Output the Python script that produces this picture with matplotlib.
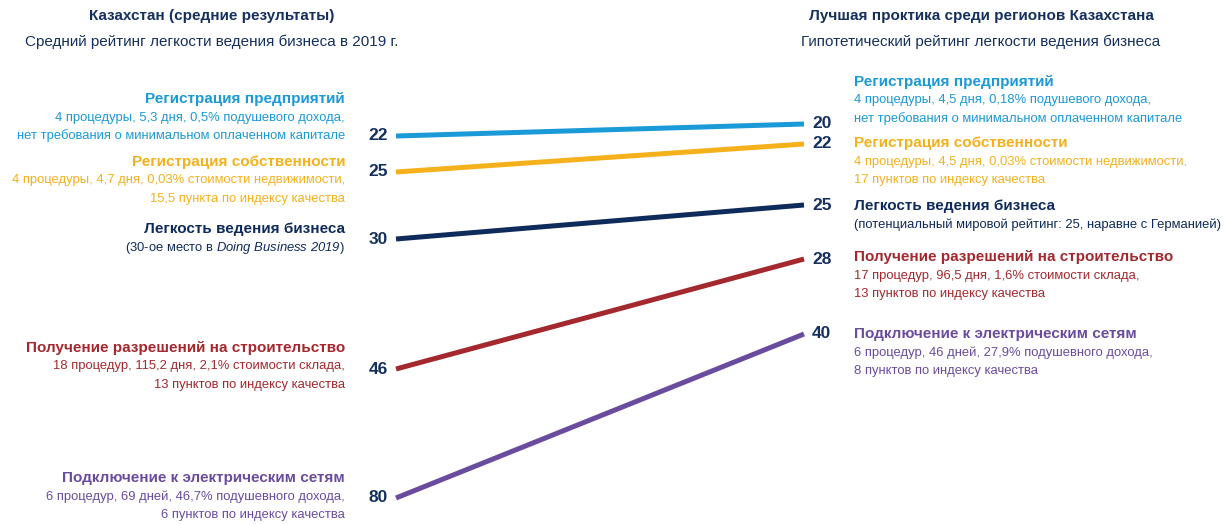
import matplotlib

matplotlib.use("Agg")
import matplotlib.pyplot as plt
import numpy as np
from matplotlib.patches import ConnectionPatch

FONT = ["Liberation Sans", "DejaVu Sans"]
plt.rcParams["font.family"] = FONT
# only the "Doing Business 2019" fragment is math text, and it is all italic
plt.rcParams["mathtext.fontset"] = "custom"
plt.rcParams["mathtext.rm"] = "Liberation Sans:italic"
plt.rcParams["mathtext.it"] = "Liberation Sans:italic"

# --- data ---------------------------------------------------------------
INDICATORS = [
    "Регистрация предприятий",
    "Регистрация собственности",
    "Легкость ведения бизнеса",
    "Получение разрешений на строительство",
    "Подключение к электрическим сетям",
]
RANK_KZ = [22, 25, 30, 46, 80]
RANK_BEST = [20, 22, 25, 28, 40]

DETAILS_KZ = [
    ["4 процедуры, 5,3 дня, 0,5% подушевого дохода,",
     "нет требования о минимальном оплаченном капитале"],
    ["4 процедуры, 4,7 дня, 0,03% стоимости недвижимости,",
     "15,5 пункта по индексу качества"],
    [r"(30-ое место в $\mathrm{Doing\ Business\ 2019}$)"],
    ["18 процедур, 115,2 дня, 2,1% стоимости склада,",
     "13 пунктов по индексу качества"],
    ["6 процедур, 69 дней, 46,7% подушевного дохода,",
     "6 пунктов по индексу качества"],
]
DETAILS_BEST = [
    ["4 процедуры, 4,5 дня, 0,18% подушевого дохода,",
     "нет требования о минимальном оплаченном капитале"],
    ["4 процедуры, 4,5 дня, 0,03% стоимости недвижимости,",
     "17 пунктов по индексу качества"],
    ["(потенциальный мировой рейтинг: 25, наравне с Германией)"],
    ["17 процедур, 96,5 дня, 1,6% стоимости склада,",
     "13 пунктов по индексу качества"],
    ["6 процедур, 46 дней, 27,9% подушевного дохода,",
     "8 пунктов по индексу качества"],
]

TITLE_KZ = "Казахстан (средние результаты)"
SUBTITLE_KZ = "Средний рейтинг легкости ведения бизнеса в 2019 г."
TITLE_BEST = "Лучшая проктика среди регионов Казахстана"
SUBTITLE_BEST = "Гипотетический рейтинг легкости ведения бизнеса"

# --- layout / style -----------------------------------------------------
W, H = 1228, 524
COLORS = ["#1a9ad6", "#f5b11c", "#0f2b5b", "#a3292e", "#6a4c9e"]
NAVY = "#15305e"
# rank -> pixel row at each end of the slope (infographic spacing, not linear)
SLOT_ROWS_KZ = [136, 172, 239, 369, 498]
SLOT_ROWS_BEST = [124, 144, 205, 259, 334]
HEAD_ROWS_KZ = [99, 162, 229, 348, 478]
HEAD_ROWS_BEST = [82, 143, 206, 257, 334]
LINE_STEP = 18.5
X_LINE_L, X_LINE_R = 396, 804
X_LABEL_L, X_LABEL_R = 345, 854
FS_HEAD, FS_DETAIL, FS_NUM, FS_TITLE = 11, 9.4, 12.5, 11


def slot_axes(fig, ranks, rows):
    """Transparent overlay whose y-scale maps rank to the slot rows."""
    order = np.argsort(ranks)
    r = np.concatenate([[0], np.asarray(ranks)[order], [100]])
    p = np.concatenate([[0], np.asarray(rows)[order], [H]])
    axs = fig.add_axes([0, 0, 1, 1])
    axs.set_yscale("function", functions=(lambda v: np.interp(v, r, p),
                                          lambda y: np.interp(y, p, r)))
    axs.set_xlim(0, W)
    axs.set_ylim(100, 0)
    axs.axis("off")
    axs.patch.set_alpha(0)
    return axs


fig = plt.figure(figsize=(W / 100, H / 100), dpi=100)
ax = fig.add_axes([0, 0, 1, 1])
ax.set_xlim(0, W)
ax.set_ylim(H, 0)
ax.axis("off")

ax_l = slot_axes(fig, RANK_KZ, SLOT_ROWS_KZ)
ax_r = slot_axes(fig, RANK_BEST, SLOT_ROWS_BEST)

for i, name in enumerate(INDICATORS):
    c = COLORS[i]
    con = ConnectionPatch(xyA=(X_LINE_L, RANK_KZ[i]), coordsA=ax_l.transData,
                          xyB=(X_LINE_R, RANK_BEST[i]), coordsB=ax_r.transData,
                          color=c, lw=3.6, capstyle="butt")
    fig.add_artist(con)
    ax_l.text(388, RANK_KZ[i], str(RANK_KZ[i]), ha="right", va="center",
              fontsize=FS_NUM, fontweight="bold", color=NAVY)
    ax_r.text(812, RANK_BEST[i], str(RANK_BEST[i]), ha="left", va="center",
              fontsize=FS_NUM, fontweight="bold", color=NAVY)

    ax.text(X_LABEL_L, HEAD_ROWS_KZ[i], name, ha="right", va="center",
            fontsize=FS_HEAD, fontweight="bold", color=c)
    for k, line in enumerate(DETAILS_KZ[i]):
        ax.text(X_LABEL_L, HEAD_ROWS_KZ[i] + LINE_STEP * (k + 1), line,
                ha="right", va="center", fontsize=FS_DETAIL, color=c)

    ax.text(X_LABEL_R, HEAD_ROWS_BEST[i], name, ha="left", va="center",
            fontsize=FS_HEAD, fontweight="bold", color=c)
    for k, line in enumerate(DETAILS_BEST[i]):
        ax.text(X_LABEL_R, HEAD_ROWS_BEST[i] + LINE_STEP * (k + 1), line,
                ha="left", va="center", fontsize=FS_DETAIL, color=c)

ax.text(212, 16, TITLE_KZ, ha="center", va="center", fontsize=FS_TITLE,
        fontweight="bold", color=NAVY)
ax.text(212, 42, SUBTITLE_KZ, ha="center", va="center", fontsize=FS_TITLE,
        color=NAVY)
ax.text(981, 16, TITLE_BEST, ha="center", va="center", fontsize=FS_TITLE,
        fontweight="bold", color=NAVY)
ax.text(981, 42, SUBTITLE_BEST, ha="center", va="center", fontsize=FS_TITLE,
        color=NAVY)

fig.savefig("out.png", dpi=100)
